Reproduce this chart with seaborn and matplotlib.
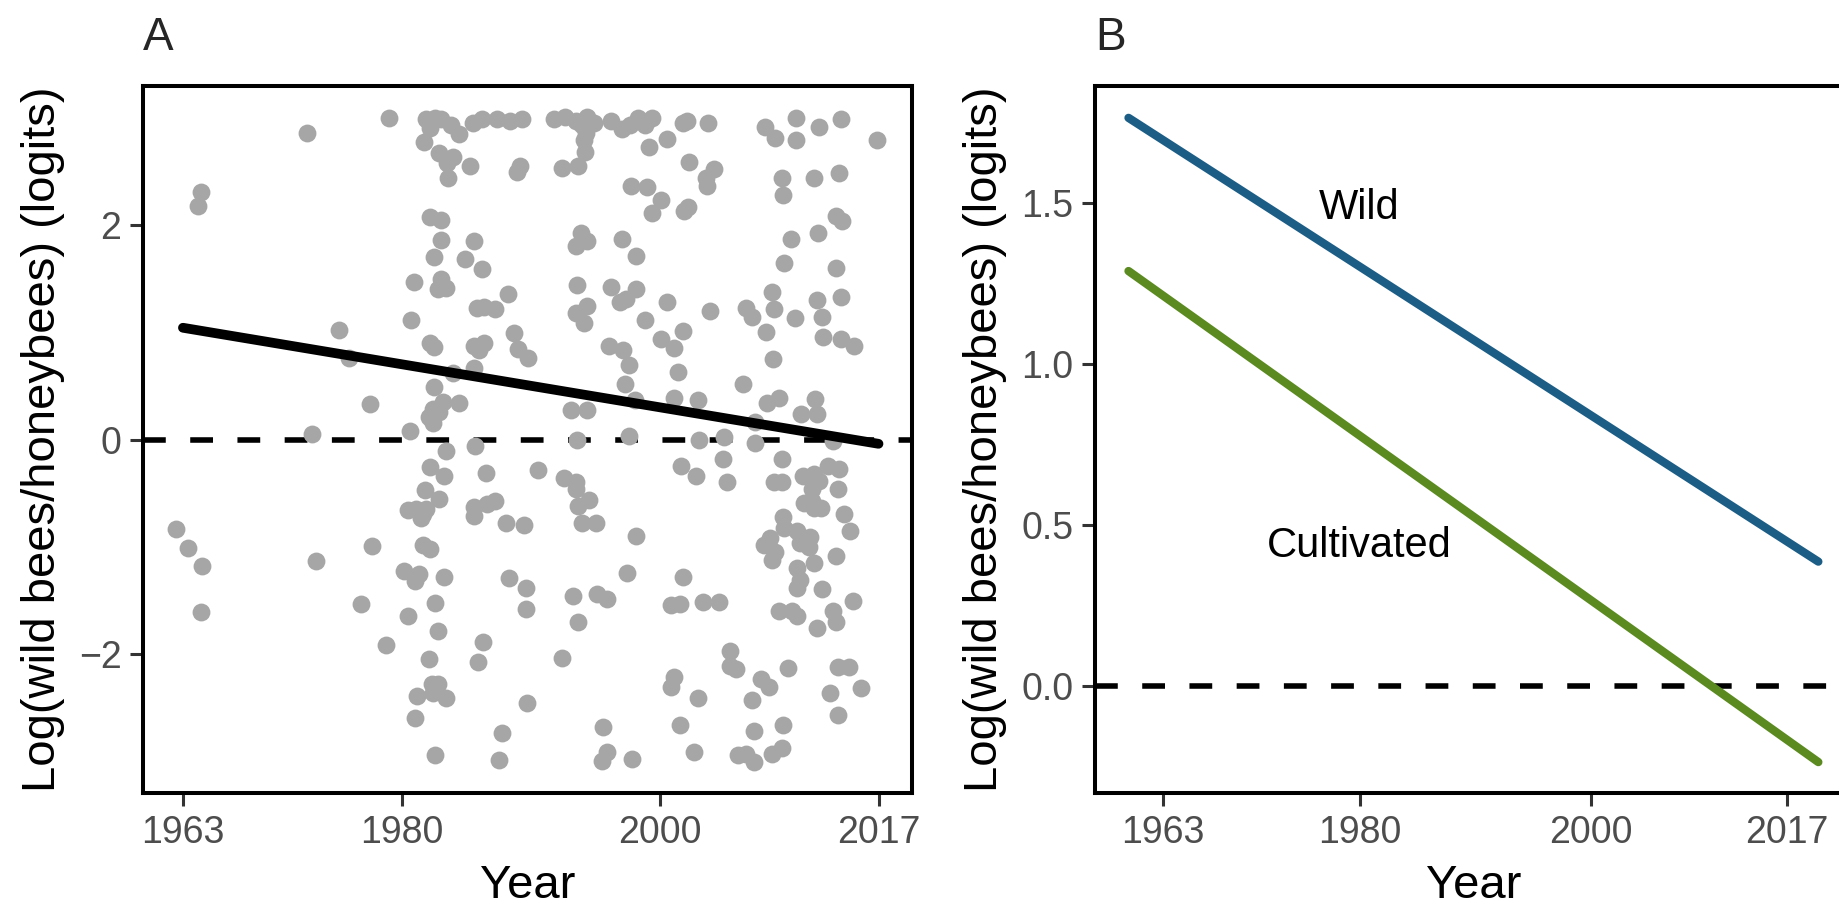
import matplotlib
matplotlib.use("Agg")
import matplotlib.pyplot as plt
import pandas as pd
import seaborn as sns

# Panel A: one point per site/year (logit of wild bees vs honeybees)
years = [
    1979.0, 1972.6, 1964.4, 1964.2, 1981.9, 1982.6, 1983.0, 1982.2, 1983.8, 1984.4,
    1985.5, 1986.2, 1987.4, 1988.4, 1989.3, 1981.7, 1982.9, 1984.0, 1983.5, 1983.6,
    1985.3, 1989.2, 1988.9, 1982.2, 1983.0, 1983.0, 1985.6, 1982.5, 1984.9, 1986.2,
    1980.9, 1983.0, 1982.8, 1983.4, 1988.2, 1985.8, 1986.4, 1987.2, 1980.7, 1988.7,
    1975.1, 1975.9, 1982.2, 1982.5, 1985.6, 1986.4, 1986.0, 1989.0, 1989.8, 1984.0,
    1985.6, 1982.5, 1977.5, 1983.2, 1982.4, 1982.1, 1982.4, 1982.9, 1984.4, 1973.0,
    1980.6, 1983.4, 1985.7, 1982.2, 1983.3, 1986.5, 1981.8, 1982.9, 1980.5, 1981.1,
    1981.6, 1981.9, 1981.5, 1985.6, 1985.6, 1986.6, 1987.2, 1988.1, 1989.5, 1962.5,
    1963.4, 1964.5, 1964.4, 1973.3, 1977.7, 1976.8, 1978.8, 1981.6, 1982.2, 1980.2,
    1981.3, 1981.0, 1983.3, 1982.6, 1980.5, 1982.8, 1982.1, 1982.3, 1982.8, 1982.4,
    1983.4, 1981.2, 1981.0, 1982.6, 1986.3, 1985.9, 1987.8, 1987.5, 1988.3, 1989.6,
    1989.6, 1989.7, 1991.8, 1992.7, 1993.5, 1994.4, 1994.0, 1994.9, 1994.3, 1994.1,
    1994.25, 1996.2, 1997.1, 1997.7, 1998.3, 1998.9, 1999.4, 2001.8, 2002.1, 2003.8,
    2008.2, 2009.0, 2010.6, 2010.6, 2012.4, 2014.05, 2016.9, 1999.2, 2000.6, 1992.4,
    1993.7, 2002.3, 2003.6, 2004.2, 2003.7, 1997.8, 1999.0, 2000.1, 1999.4, 2001.9,
    2002.2, 2009.5, 2009.6, 2012.0, 2013.9, 2013.7, 2014.2, 1993.9, 1993.5, 1994.4,
    1997.1, 1998.2, 2010.2, 2012.3, 2009.7, 2013.7, 1993.6, 1993.55, 1994.4, 1994.1,
    1996.2, 1996.9, 1997.4, 1998.2, 2000.6, 1998.9, 2003.9, 2006.75, 2007.2, 2008.7,
    2008.9, 2010.5, 2012.2, 2012.6, 2014.05, 2001.8, 2000.1, 2001.1, 2001.4, 1996.1,
    1997.2, 1997.6, 1997.35, 2008.3, 2008.8, 2012.7, 2014.05, 2015.1, 2006.5, 1993.1,
    1994.4, 1998.1, 2001.1, 2003.0, 2008.35, 2009.3, 2011.0, 2012.2, 2012.1, 2007.4,
    1993.6, 1997.6, 2003.1, 2005.0, 2007.4, 2013.5, 1990.6, 1992.6, 1993.5, 1993.5,
    1994.5, 1993.7, 1994.0, 1995.1, 1998.2, 1997.5, 1993.3, 1993.7, 1995.15, 1995.9,
    1992.4, 1995.6, 1995.9, 1995.5, 1997.9, 2001.7, 2002.8, 2004.9, 2005.2, 2001.8,
    2000.9, 2001.6, 2003.4, 2004.6, 2005.5, 2005.5, 2005.9, 2001.1, 2000.9, 2003.0,
    2001.6, 2002.7, 2006.1, 2006.7, 2007.3, 2007.9, 2008.5, 2007.2, 2007.3, 2008.7,
    2009.5, 2009.6, 2010.0, 2013.2, 2013.85, 2013.85, 2014.7, 2015.65, 2009.5, 2008.9,
    2009.5, 2011.1, 2012.0, 2012.4, 2011.85, 2013.1, 2013.9, 2013.85, 2011.2, 2011.85,
    2012.5, 2012.0, 2014.3, 2014.8, 2009.6, 2009.7, 2010.7, 2011.7, 2010.9, 2011.6,
    2008.6, 2008.1, 2009.0, 2008.7, 2013.7, 2012.0, 2010.7, 2010.9, 2010.7, 2012.6,
    2015.0, 2009.3, 2010.3, 2010.7, 2012.2, 2013.5, 2013.7,
]
logits = [
    2.99, 2.85, 2.30, 2.17, 2.98, 2.99, 2.98, 2.90, 2.93, 2.84,
    2.95, 2.98, 2.98, 2.96, 2.98, 2.77, 2.67, 2.63, 2.57, 2.43,
    2.55, 2.55, 2.49, 2.07, 2.04, 1.86, 1.85, 1.70, 1.68, 1.59,
    1.47, 1.49, 1.40, 1.41, 1.35, 1.22, 1.23, 1.21, 1.11, 0.99,
    1.02, 0.76, 0.90, 0.86, 0.87, 0.90, 0.83, 0.84, 0.76, 0.62,
    0.67, 0.49, 0.33, 0.35, 0.28, 0.21, 0.15, 0.26, 0.34, 0.05,
    0.08, -0.11, -0.06, -0.26, -0.34, -0.31, -0.47, -0.55, -0.66, -0.65,
    -0.69, -0.65, -0.73, -0.63, -0.71, -0.60, -0.57, -0.78, -0.80, -0.83,
    -1.01, -1.18, -1.61, -1.13, -0.99, -1.53, -1.91, -0.98, -1.02, -1.22,
    -1.25, -1.32, -1.28, -1.52, -1.64, -1.78, -2.04, -2.28, -2.28, -2.36,
    -2.41, -2.39, -2.59, -2.94, -1.88, -2.07, -2.73, -2.98, -1.29, -1.38,
    -1.58, -2.45, 2.98, 3.00, 2.96, 3.00, 2.93, 2.95, 2.85, 2.79,
    2.68, 2.96, 2.89, 2.93, 2.99, 2.93, 2.99, 2.95, 2.96, 2.95,
    2.91, 2.81, 2.99, 2.79, 2.91, 2.98, 2.79, 2.72, 2.80, 2.53,
    2.55, 2.58, 2.43, 2.52, 2.36, 2.36, 2.35, 2.23, 2.11, 2.13,
    2.16, 2.43, 2.28, 2.43, 2.48, 2.08, 2.03, 1.92, 1.80, 1.85,
    1.87, 1.71, 1.87, 1.92, 1.64, 1.60, 1.44, 1.18, 1.24, 1.08,
    1.42, 1.28, 1.31, 1.40, 1.28, 1.11, 1.20, 1.22, 1.14, 1.37,
    1.21, 1.13, 1.30, 1.14, 1.33, 1.01, 0.94, 0.85, 0.63, 0.87,
    0.83, 0.69, 0.52, 1.00, 0.75, 0.95, 0.94, 0.87, 0.52, 0.27,
    0.27, 0.37, 0.39, 0.37, 0.34, 0.39, 0.24, 0.24, 0.38, 0.16,
    0.00, 0.03, 0.00, 0.02, -0.03, -0.01, -0.28, -0.36, -0.40, -0.46,
    -0.56, -0.62, -0.78, -0.78, -0.90, -1.24, -1.46, -1.70, -1.44, -1.48,
    -2.03, -2.68, -2.91, -2.99, -2.97, -0.25, -0.34, -0.18, -0.40, -1.28,
    -1.54, -1.53, -1.51, -1.51, -1.97, -2.11, -2.14, -2.21, -2.30, -2.41,
    -2.66, -2.91, -2.94, -2.93, -3.00, -2.23, -2.30, -2.42, -2.71, -2.93,
    -2.87, -2.66, -2.13, -2.36, -2.56, -2.12, -2.12, -2.31, -0.18, -0.40,
    -0.40, -0.34, -0.32, -0.39, -0.46, -0.25, -0.27, -0.46, -0.59, -0.57,
    -0.64, -0.64, -0.69, -0.85, -0.72, -0.82, -0.85, -0.91, -0.96, -1.00,
    -0.92, -0.98, -1.05, -1.12, -1.08, -1.15, -1.20, -1.31, -1.38, -1.39,
    -1.50, -1.60, -1.60, -1.64, -1.75, -1.60, -1.70,
]

# fitted trend in panel A
trend_years = [1963, 2017]
trend_logits = [1.04, -0.04]

# Panel B: model predictions by habitat
pred_years = [1960, 2019.7]
wild_pred = [1.765, 0.386]
cult_pred = [1.289, -0.237]
habitat_colors = {"Wild": "#1c5d86", "Cultivated": "#5b8a20"}
label_pos = {"Wild": (1980, 1.45), "Cultivated": (1980, 0.40)}

year_ticks = [1963, 1980, 2000, 2017]
ylabel = "Log(wild bees/honeybees) (logits)"

sns.set_theme(style="ticks")
plt.rcParams["font.family"] = ["Liberation Sans", "DejaVu Sans"]

fig = plt.figure(figsize=(18.4, 9.07), dpi=100)
axA = fig.add_axes([143 / 1840, 114 / 907, 769 / 1840, 707 / 907])
axB = fig.add_axes([1095 / 1840, 114 / 907, 758 / 1840, 707 / 907])

pts = pd.DataFrame({"year": years, "logit": logits})
sns.scatterplot(data=pts, x="year", y="logit", color="#a6a6a6", s=165,
                linewidth=0, ax=axA, zorder=2)
sns.lineplot(x=trend_years, y=trend_logits, color="black", lw=7, ax=axA, zorder=3)

pred = pd.DataFrame({
    "year": pred_years * 2,
    "logit": wild_pred + cult_pred,
    "habitat": ["Wild"] * 2 + ["Cultivated"] * 2,
})
sns.lineplot(data=pred, x="year", y="logit", hue="habitat", palette=habitat_colors,
             lw=6, legend=False, ax=axB, zorder=3)
for name, (lx, ly) in label_pos.items():
    axB.text(lx, ly, name, ha="center", va="baseline", fontsize=30, color="black")

for ax, tag in [(axA, "A"), (axB, "B")]:
    ax.axhline(0, color="black", lw=4, ls=(0, (4.1, 4.4)), zorder=1)
    ax.set_xticks(year_ticks)
    ax.set_xlabel("Year", fontsize=34, color="black", labelpad=10)
    ax.set_ylabel(ylabel, fontsize=34, color="black", labelpad=10)
    ax.set_title(tag, loc="left", fontsize=33, pad=26)
    ax.tick_params(length=9.5, width=2.2, color="#333333", labelsize=27,
                   labelcolor="#4d4d4d", pad=6)
    for sp in ax.spines.values():
        sp.set_linewidth(2.9)
        sp.set_color("black")
        sp.set_visible(True)
    ax.grid(False)

axA.set_xlim(1959.9, 2019.6)
axA.set_ylim(-3.29, 3.29)
axA.set_yticks([-2, 0, 2])
axA.set_yticklabels(["\u22122", "0", "2"])

axB.set_xlim(1957.1, 2022.7)
axB.set_ylim(-0.333, 1.864)
axB.set_yticks([0, 0.5, 1.0, 1.5])
axB.set_yticklabels(["0.0", "0.5", "1.0", "1.5"])

fig.savefig("out.png", dpi=100)
